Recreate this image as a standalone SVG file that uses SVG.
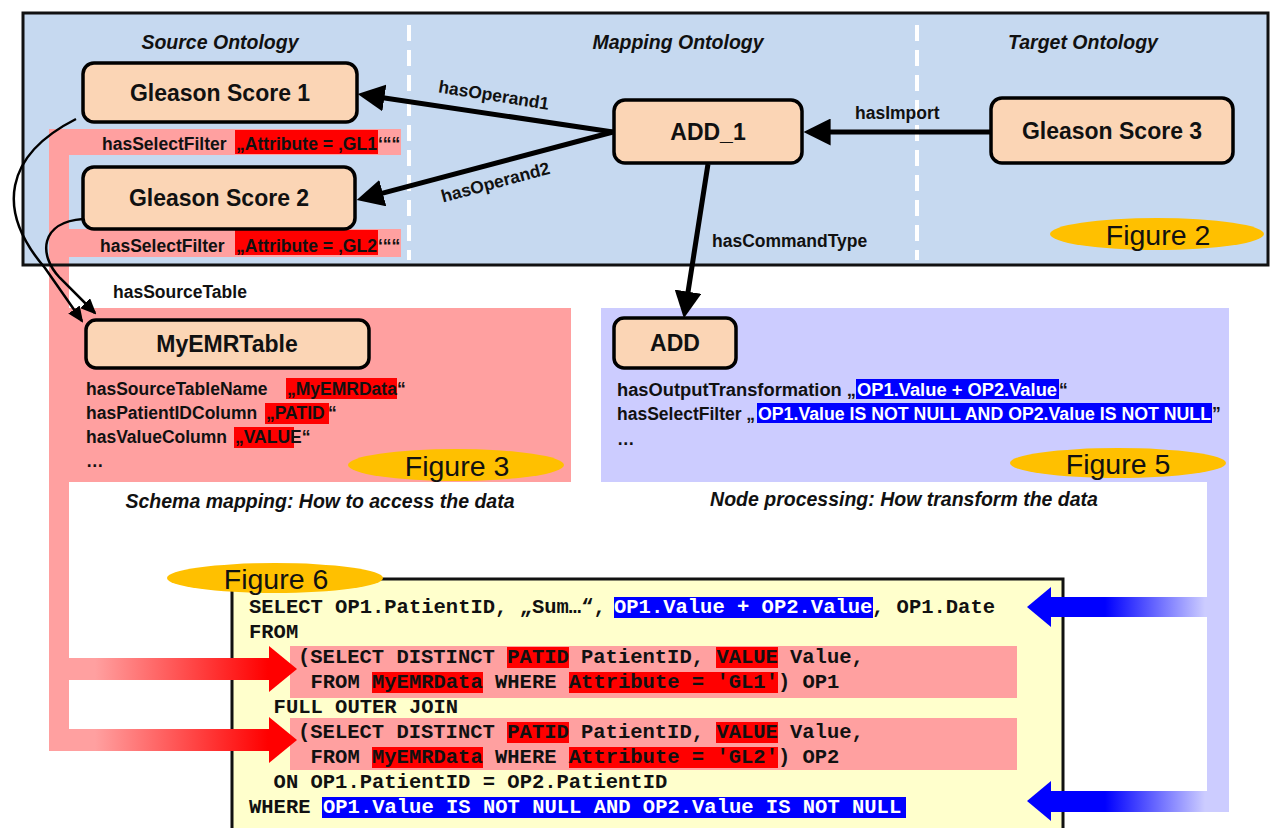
<svg xmlns="http://www.w3.org/2000/svg" width="1270" height="828" viewBox="0 0 1270 828">
<defs>
<style>
.nd{fill:#fbd5b5;stroke:#000;stroke-width:3.5}
.nt{font-family:"Liberation Sans",Arial,sans-serif;font-weight:bold;font-size:23px;text-anchor:middle;fill:#111}
.lb{font-family:"Liberation Sans",Arial,sans-serif;font-weight:bold;font-size:17.5px;fill:#111}
.tt{font-family:"Liberation Sans",Arial,sans-serif;font-weight:bold;font-style:italic;font-size:19.5px;text-anchor:middle;fill:#111}
.fg{font-family:"Liberation Sans",Arial,sans-serif;font-size:28.5px;text-anchor:middle;fill:#111}
.sq{font-family:"Liberation Mono","Courier New",monospace;font-weight:bold;font-size:20.5px;fill:#111}
.lb.wt,.sq.wt{fill:#fff}
.pk{fill:#ffa0a0}
.rd{fill:#ff0000}
.bl{fill:#0000ff}
.lv{fill:#ccccff}
.gd{fill:#ffc000}
.thick{stroke:#000;stroke-width:5;fill:none;marker-end:url(#ah)}
.thin{stroke:#000;stroke-width:2.5;fill:none;marker-end:url(#ahs)}
</style>
<marker id="ah" markerUnits="userSpaceOnUse" markerWidth="27" markerHeight="27" viewBox="0 0 26 26" refX="16" refY="13" orient="auto"><path d="M0,0 L26,13 L0,26 z" fill="#000"/></marker>
<marker id="ahs" markerUnits="userSpaceOnUse" markerWidth="16" markerHeight="14" viewBox="0 0 16 14" refX="14" refY="7" orient="auto"><path d="M0,0 L16,7 L0,14 z" fill="#000"/></marker>
<linearGradient id="rg" gradientUnits="userSpaceOnUse" x1="95" y1="0" x2="268" y2="0"><stop offset="0" stop-color="#ffa0a0"/><stop offset="1" stop-color="#ff0000"/></linearGradient>
<linearGradient id="bg" gradientUnits="userSpaceOnUse" x1="1205" y1="0" x2="1105" y2="0"><stop offset="0" stop-color="#ccccff"/><stop offset="1" stop-color="#0000ff"/></linearGradient>
</defs>

<!-- top blue panel -->
<rect x="23" y="13" width="1245" height="252" fill="#c6d9f0"/>
<line x1="409" y1="25" x2="409" y2="260" stroke="#fff" stroke-width="4" stroke-dasharray="16 9"/>
<line x1="917" y1="25" x2="917" y2="260" stroke="#fff" stroke-width="4" stroke-dasharray="16 9"/>

<!-- pink schema mapping band -->
<g id="schema-band">
<rect class="pk" x="49" y="129" width="352" height="26"/>
<rect class="pk" x="49" y="229" width="352" height="28"/>
<rect class="pk" x="49" y="129" width="20" height="622"/>
<rect class="pk" x="69" y="308" width="502" height="174"/>
</g>

<!-- lavender node processing band -->
<g id="processing-band">
<rect class="lv" x="601" y="308" width="628" height="174"/>
<rect class="lv" x="1207" y="482" width="22" height="330"/>
</g>

<rect x="23" y="13" width="1245" height="252" fill="none" stroke="#111" stroke-width="3"/>

<text class="tt" x="220" y="49">Source Ontology</text>
<text class="tt" x="678" y="49">Mapping Ontology</text>
<text class="tt" x="1083" y="49">Target Ontology</text>

<!-- select filters -->
<rect class="rd" x="235" y="130" width="143" height="24"/>
<text class="lb" x="102" y="150">hasSelectFilter</text>
<text class="lb" x="236" y="150" textLength="141" lengthAdjust="spacingAndGlyphs">„Attribute = ‚GL1</text>
<text class="lb" x="378" y="150">‘““</text>
<rect class="rd" x="235" y="230" width="143" height="25"/>
<text class="lb" x="100" y="252">hasSelectFilter</text>
<text class="lb" x="236" y="252" textLength="141" lengthAdjust="spacingAndGlyphs">„Attribute = ‚GL2</text>
<text class="lb" x="378" y="252">‘““</text>

<!-- Figure 2 -->
<g id="fig2"><ellipse class="gd" cx="1157" cy="234" rx="107" ry="16"/><text class="fg" x="1158" y="245">Figure 2</text></g>

<!-- nodes -->
<g id="gleason1"><rect class="nd" x="83" y="63" width="274" height="59" rx="11"/><text class="nt" x="220" y="101">Gleason Score 1</text></g>
<g id="gleason2"><rect class="nd" x="83" y="167" width="272" height="62" rx="11"/><text class="nt" x="219" y="206">Gleason Score 2</text></g>
<g id="add1"><rect class="nd" x="614" y="100" width="188" height="63" rx="11"/><text class="nt" x="708" y="140">ADD_1</text></g>
<g id="gleason3"><rect class="nd" x="991" y="98" width="242" height="65" rx="11"/><text class="nt" x="1112" y="139">Gleason Score 3</text></g>

<g id="myemrtable">
<rect class="nd" x="86" y="320" width="283" height="48" rx="10"/><text class="nt" x="227" y="352">MyEMRTable</text>
<rect class="rd" x="286" y="378" width="111" height="21"/>
<text class="lb" x="86" y="395">hasSourceTableName</text><text class="lb" x="287" y="395">„MyEMRData</text><text class="lb" x="397" y="395">“</text>
<rect class="rd" x="265" y="403" width="64" height="21"/>
<text class="lb" x="86" y="419">hasPatientIDColumn</text><text class="lb" x="266" y="419">„PATID</text><text class="lb" x="328" y="419">“</text>
<rect class="rd" x="234" y="427" width="60" height="21"/>
<text class="lb" x="86" y="443">hasValueColumn</text><text class="lb" x="235" y="443">„VALUE“</text>
<text class="lb" x="86" y="467">…</text>
</g>
<g id="fig3"><ellipse class="gd" cx="456" cy="465" rx="108" ry="16"/><text class="fg" x="457" y="476">Figure 3</text></g>
<text class="tt" x="320" y="508">Schema mapping: How to access the data</text>

<g id="add">
<rect class="nd" x="614" y="318" width="122" height="50" rx="10"/><text class="nt" x="675" y="351">ADD</text>
<rect class="bl" x="856" y="379" width="203" height="20"/>
<text class="lb" x="617" y="396" textLength="239" lengthAdjust="spacingAndGlyphs">hasOutputTransformation „</text><text class="lb wt" x="857" y="396" textLength="200" lengthAdjust="spacingAndGlyphs">OP1.Value + OP2.Value</text><text class="lb" x="1059" y="396">“</text>
<rect class="bl" x="757" y="403" width="455" height="20"/>
<text class="lb" x="617" y="420">hasSelectFilter „</text><text class="lb wt" x="758" y="420" textLength="453" lengthAdjust="spacingAndGlyphs">OP1.Value IS NOT NULL AND OP2.Value IS NOT NULL</text><text class="lb" x="1212" y="420">”</text>
<text class="lb" x="617" y="445">…</text>
</g>
<g id="fig5"><ellipse class="gd" cx="1118" cy="463" rx="108" ry="15"/><text class="fg" x="1118" y="474">Figure 5</text></g>
<text class="tt" x="904" y="506">Node processing: How transform the data</text>

<!-- SQL box -->
<g id="sql">
<rect x="232" y="579" width="831" height="260" fill="#ffffcc" stroke="#111" stroke-width="3"/>
<rect class="pk" x="290" y="646" width="727" height="52"/>
<rect class="pk" x="290" y="718" width="727" height="52"/>
<rect class="bl" x="614" y="597" width="259" height="21"/>
<text class="sq" x="249" y="613">SELECT OP1.PatientID, „Sum…“,</text>
<text class="sq wt" x="614" y="613">OP1.Value + OP2.Value</text>
<text class="sq" x="872" y="613">, OP1.Date</text>
<text class="sq" x="249" y="638">FROM</text>
<rect class="rd" x="507" y="647" width="62" height="21"/><rect class="rd" x="716" y="647" width="62" height="21"/>
<text class="sq" x="298" y="663">(SELECT DISTINCT</text><text class="sq" x="507.3" y="663">PATID</text><text class="sq" x="581" y="663">PatientID,</text><text class="sq" x="716.4" y="663">VALUE</text><text class="sq" x="790" y="663">Value,</text>
<rect class="rd" x="372" y="672" width="111" height="21"/><rect class="rd" x="569" y="672" width="209" height="21"/>
<text class="sq" x="310.5" y="688">FROM</text><text class="sq" x="372" y="688">MyEMRData</text><text class="sq" x="495" y="688">WHERE</text><text class="sq" x="568.8" y="688">Attribute = 'GL1'</text><text class="sq" x="777.9" y="688">) OP1</text>
<text class="sq" x="273.6" y="713">FULL OUTER JOIN</text>
<rect class="rd" x="507" y="722" width="62" height="21"/><rect class="rd" x="716" y="722" width="62" height="21"/>
<text class="sq" x="298" y="738">(SELECT DISTINCT</text><text class="sq" x="507.3" y="738">PATID</text><text class="sq" x="581" y="738">PatientID,</text><text class="sq" x="716.4" y="738">VALUE</text><text class="sq" x="790" y="738">Value,</text>
<rect class="rd" x="372" y="747" width="111" height="21"/><rect class="rd" x="569" y="747" width="209" height="21"/>
<text class="sq" x="310.5" y="763">FROM</text><text class="sq" x="372" y="763">MyEMRData</text><text class="sq" x="495" y="763">WHERE</text><text class="sq" x="568.8" y="763">Attribute = 'GL2'</text><text class="sq" x="777.9" y="763">) OP2</text>
<text class="sq" x="273.6" y="788">ON OP1.PatientID = OP2.PatientID</text>
<rect class="bl" x="322" y="797" width="584" height="21"/>
<text class="sq" x="249" y="813">WHERE</text>
<text class="sq wt" x="323" y="813">OP1.Value IS NOT NULL AND OP2.Value IS NOT NULL</text>
</g>
<g id="fig6"><ellipse class="gd" cx="275" cy="578" rx="108" ry="15"/><text class="fg" x="276" y="589">Figure 6</text></g>

<!-- connectors -->
<g id="connectors">
<line class="thick" x1="613" y1="132" x2="367.9" y2="95.5"/>
<line class="thick" x1="613" y1="132" x2="366.7" y2="197.4"/>
<line class="thick" x1="991" y1="132" x2="814" y2="132"/>
<line class="thick" x1="708" y1="164" x2="685.5" y2="308.1"/>
<path class="thin" d="M76 119 C5 155,-5 210,45 268 L82 321"/>
<path class="thin" d="M83 219 C40 222,38 255,60 278 L95 313"/>
<text class="lb" transform="translate(493,101) rotate(9)" text-anchor="middle">hasOperand1</text>
<text class="lb" transform="translate(497,188) rotate(-15)" text-anchor="middle">hasOperand2</text>
<text class="lb" x="855" y="119">hasImport</text>
<text class="lb" x="712" y="247">hasCommandType</text>
<text class="lb" x="113" y="298">hasSourceTable</text>
<!-- red data arrows -->
<rect x="49" y="658" width="222" height="22" fill="url(#rg)"/>
<path d="M269 646 L297 669 L269 692 z" fill="#ff0000"/>
<rect x="49" y="729" width="222" height="22" fill="url(#rg)"/>
<path d="M269 717 L297 740 L269 763 z" fill="#ff0000"/>
<!-- blue transform arrows -->
<rect x="1049" y="597" width="180" height="20" fill="url(#bg)"/>
<path d="M1051 587 L1027 607 L1051 627 z" fill="#0000ff"/>
<rect x="1049" y="791" width="180" height="21" fill="url(#bg)"/>
<path d="M1051 781 L1027 801 L1051 821 z" fill="#0000ff"/>
</g>
</svg>
